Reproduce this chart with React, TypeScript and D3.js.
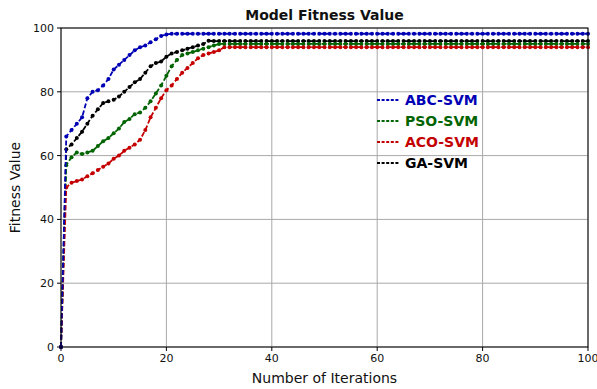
import React from "react";
import * as d3 from "d3";

const iterations: number[] = Array.from({ length: 101 }, (_, i) => i);

const abcHead = [0, 66, 68, 70, 72, 78, 80, 80.5, 82, 84, 87, 88.5, 90, 91.5, 93, 94, 94.5, 95.5, 96.5, 97.5, 98];
const abcTail = 98.2;
const gaHead = [0, 62, 63.5, 65.5, 67.5, 70, 72.5, 74.5, 76.5, 77, 77.5, 78.5, 80, 81.5, 83, 84, 86, 88, 89, 89.5, 91, 92, 92.5, 93, 93.5, 94, 94.5, 95, 96];
const gaTail = 95.9;
const psoHead = [0, 57, 59.5, 61, 60.5, 61, 61.5, 63, 64.5, 65.5, 67, 68.5, 70.5, 71.5, 73, 73.5, 75, 77, 79.5, 82, 85, 88, 90, 91.5, 92, 92.5, 93, 93.5, 94, 94.5, 95];
const psoTail = 95;
const acoHead = [0, 50, 51.5, 52, 52.5, 53.5, 54.5, 55.5, 56.5, 57.5, 59, 60, 61.5, 62.5, 63.5, 65, 68, 72, 75, 78, 80.5, 82, 84, 86, 87.5, 89, 90.5, 91.5, 92, 92.5, 93, 94];
const acoTail = 94;

const seriesNames = ["ABC-SVM", "PSO-SVM", "ACO-SVM", "GA-SVM"];
const seriesColors = ["#0000b4", "#006400", "#c40000", "#000000"];
const heads = [abcHead, psoHead, acoHead, gaHead];
const tails = [abcTail, psoTail, acoTail, gaTail];

const xTicks = [0, 20, 40, 60, 80, 100];
const yTicks = [0, 20, 40, 60, 80, 100];

const W = 597, H = 389;
const L = 61, R = 588, T = 28, B = 347;

export default function App() {
  const x = d3.scaleLinear().domain([0, 100]).range([L, R]);
  const y = d3.scaleLinear().domain([0, 100]).range([B, T]);
  const line = d3.line<[number, number]>().x(d => x(d[0])).y(d => y(d[1]));
  const font = "'DejaVu Sans', sans-serif";

  const series = heads.map((h, k) =>
    iterations.map(i => [i, i < h.length ? h[i] : tails[k]] as [number, number])
  );
  const drawOrder = [3, 1, 2, 0];

  return (
    <svg width={W} height={H} style={{ position: "absolute", left: 0, top: 0, background: "#fff" }}>
      <rect x={0} y={0} width={W} height={H} fill="#fff" />
      {xTicks.map(t => (
        <line key={"gx" + t} x1={x(t)} x2={x(t)} y1={T} y2={B} stroke="#a8a8a8" strokeWidth={1} />
      ))}
      {yTicks.map(t => (
        <line key={"gy" + t} x1={L} x2={R} y1={y(t)} y2={y(t)} stroke="#a8a8a8" strokeWidth={1} />
      ))}
      {drawOrder.map(k => (
        <g key={"s" + k}>
          <path d={line(series[k]) || ""} fill="none" stroke={seriesColors[k]} strokeWidth={1.8} strokeDasharray="5,2.2" />
          {series[k].map((p, i) => (
            <circle key={i} cx={x(p[0])} cy={y(p[1])} r={2} fill={seriesColors[k]} />
          ))}
        </g>
      ))}
      <rect x={L} y={T} width={R - L} height={B - T} fill="none" stroke="#000" strokeWidth={1} />
      {xTicks.map(t => (
        <g key={"tx" + t}>
          <line x1={x(t)} x2={x(t)} y1={B} y2={B + 4} stroke="#000" />
          <text x={x(t)} y={B + 15} textAnchor="middle" fontFamily={font} fontSize={11} fill="#111">{t}</text>
        </g>
      ))}
      {yTicks.map(t => (
        <g key={"ty" + t}>
          <line x1={L - 4} x2={L} y1={y(t)} y2={y(t)} stroke="#000" />
          <text x={L - 7} y={y(t) + 4} textAnchor="end" fontFamily={font} fontSize={11} fill="#111">{t}</text>
        </g>
      ))}
      <text x={(L + R) / 2} y={20} textAnchor="middle" fontFamily={font} fontSize={14} fontWeight="bold" fill="#111">Model Fitness Value</text>
      <text x={(L + R) / 2} y={383} textAnchor="middle" fontFamily={font} fontSize={14} fill="#111">Number of Iterations</text>
      <text transform={`translate(20,${(T + B) / 2}) rotate(-90)`} textAnchor="middle" fontFamily={font} fontSize={14} fill="#111">Fitness Value</text>
      {seriesNames.map((n, k) => {
        const ly = 100 + k * 21;
        return (
          <g key={"lg" + k}>
            <line x1={377} x2={399} y1={ly} y2={ly} stroke={seriesColors[k]} strokeWidth={1.8} strokeDasharray="3,1.6" />
            <text x={405} y={ly + 5} fontFamily={font} fontSize={14} fontWeight="bold" fill={seriesColors[k]}>{n}</text>
          </g>
        );
      })}
    </svg>
  );
}
